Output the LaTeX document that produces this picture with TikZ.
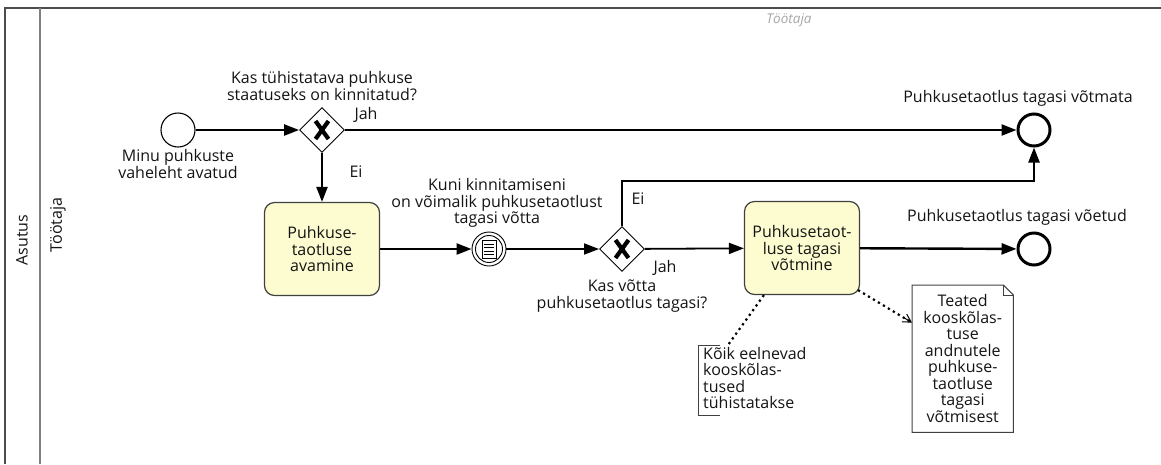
\documentclass[tikz,border=0pt]{standalone}
\usepackage{fontspec}
\setmainfont{Open Sans}
\usetikzlibrary{arrows.meta,shapes.geometric,calc}
\begin{document}
\begin{tikzpicture}[x=1pt,y=-1pt,
 flow/.style={line width=2.4pt, -{Triangle[length=15pt,width=11pt]}},
 thinflow/.style={line width=1.8pt, -{Triangle[length=15pt,width=11pt]}},
 lbl/.style={font=\fontsize{16}{16.5}\selectfont, align=center, inner sep=0, text=black!92},
 task/.style={draw=black!75, line width=1.2pt, rounded corners=10pt, fill={rgb,255:red,252;green,252;blue,208}, minimum width=115pt, minimum height=93pt, align=center, inner sep=0, font=\fontsize{16}{16.5}\selectfont, text=black!92},
 gw/.style={diamond, draw, line width=0.9pt, minimum width=45pt, minimum height=45pt, inner sep=0, fill=white},
 startev/.style={circle, draw, line width=1.1pt, minimum size=34pt, inner sep=0},
 endev/.style={circle, draw, line width=3pt, minimum size=32pt, inner sep=0},
 gwx/.style={line width=4.2pt},
 assoc/.style={line width=2.2pt, dash pattern=on 2.2pt off 3.6pt},
]
\useasboundingbox (0,0) rectangle (1161,464);
% pool and lane
\draw[black!70, line width=1.4pt] (1161,8) -- (5,8) -- (5,464);
\draw[black!50, line width=1.4pt] (40,8) -- (40,464);
\node[lbl, rotate=90] (asutus) at (22,240) {Asutus};
\node[lbl, rotate=90] (lane) at (58,225) {Töötaja};
\node[inner sep=0, font=\fontsize{13.5}{15}\selectfont\itshape, text=black!35] (hdr) at (789,20) {Töötaja};

% nodes
\node[startev] (s) at (178,130) {};
\node[lbl] (sl) at (178,164) {Minu puhkuste\\vaheleht avatud};
\node[gw] (g1) at (322,130) {};
\node[lbl] (g1l) at (322,86) {Kas tühistatava puhkuse\\staatuseks on kinnitatud?};
\node[endev] (e1) at (1034,130) {};
\node[lbl] (e1l) at (1018,98) {Puhkusetaotlus tagasi võtmata};
\node[task] (t1) at (322,249) {Puhkuse-\\taotluse\\avamine};
\node[circle, draw, line width=0.9pt, minimum size=34pt, inner sep=0] (ie) at (489,249) {};
\node[lbl] (iel) at (497,203) {Kuni kinnitamiseni\\on võimalik puhkusetaotlust\\tagasi võtta};
\node[gw] (g2) at (622,249) {};
\node[lbl] (g2l) at (622,296) {Kas võtta\\puhkusetaotlus tagasi?};
\node[task] (t2) at (802,248) {Puhkusetaot-\\luse tagasi\\võtmine};
\node[endev] (e2) at (1034,249) {};
\node[lbl] (e2l) at (1017,217) {Puhkusetaotlus tagasi võetud};

% gateway X marks
\foreach \g in {g1,g2}{
  \draw[gwx] ($(\g)+(-6.5,-9)$) -- ($(\g)+(6.5,9)$);
  \draw[gwx] ($(\g)+(6.5,-9)$) -- ($(\g)+(-6.5,9)$);
}
% intermediate conditional event
\draw[line width=0.9pt] (ie) circle[radius=13.5pt];
\draw[line width=0.9pt] ($(ie)+(-7,-9)$) rectangle ($(ie)+(7,9)$);
\foreach \dy in {-5,-1.5,2,5.5}{
  \draw[line width=0.8pt] ($(ie)+(-5,\dy)$) -- ($(ie)+(5,\dy)$);
}

% annotation
\node[lbl, align=left, anchor=north west] (ann) at (703,347) {Kõik eelnevad\\kooskõlas-\\tused\\tühistatakse};
\draw[black!75, line width=1pt] (720,345) -- (698,345) -- (698,415) -- (720,415);
\coordinate (annc) at (728,345);

% data object
\node[lbl, minimum width=101pt, minimum height=147pt, anchor=north west] (d) at (912,285) {Teated\\kooskõlas-\\tuse\\andnutele\\puhkuse-\\taotluse\\tagasi\\võtmisest};
\draw[black!75, line width=1pt, fill=none] (d.north west) -- ($(d.north east)+(-10,0)$) -- ($(d.north east)+(0,10)$) -- (d.south east) -- (d.south west) -- cycle;
\draw[black!75, line width=1pt] ($(d.north east)+(-10,0)$) -- ($(d.north east)+(-10,10)$) -- ($(d.north east)+(0,10)$);

% flows
\draw[flow] (s) -- (g1);
\draw[flow] (g1) -- (e1);
\node[lbl] (jah1) at (366,115) {Jah};
\draw[flow] (g1) -- (t1);
\node[lbl] (ei1) at (356,172) {Ei};
\draw[flow] (t1) -- (ie);
\draw[thinflow] (ie) -- (g2);
\draw[thinflow] (g2) -- (t2);
\node[lbl] (jah2) at (665,268) {Jah};
\draw[flow] (g2.north) -- (622,181) -| (e1.south);
\node[lbl] (ei2) at (638,199) {Ei};
\draw[flow] (t2) -- (e2);

% associations
\draw[assoc] ($(t2.south west)+(20,0)$) -- (annc);
\draw[assoc] ($(t2.south east)+(-2,-5)$) -- ($(d.west)+(0,-36)$);
\draw[line width=1pt, -{Straight Barb[length=8pt,width=9pt]}] ($(d.west)+(-8,-41)$) -- ($(d.west)+(0,-36)$);
\end{tikzpicture}
\end{document}
